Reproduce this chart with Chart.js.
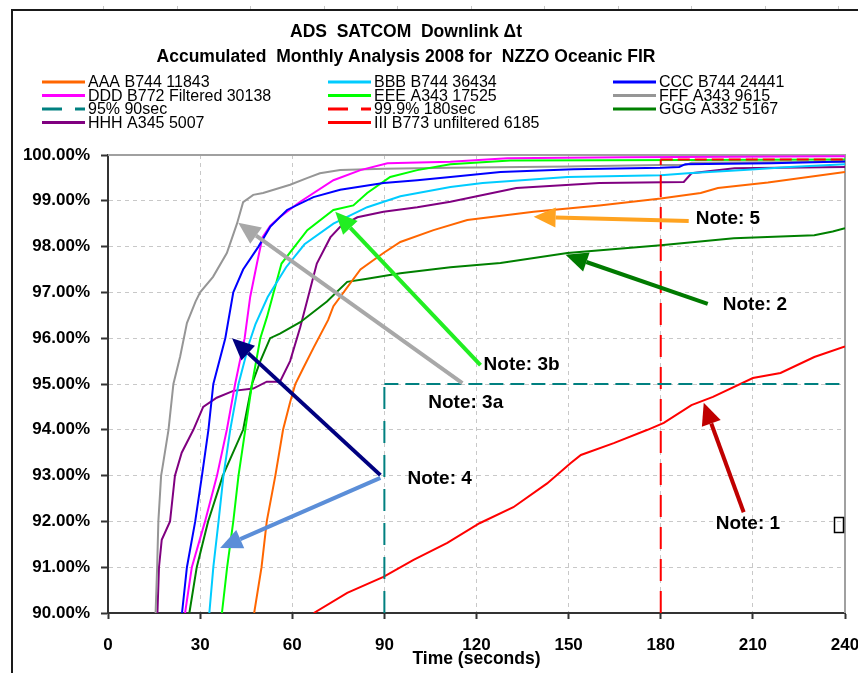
<!DOCTYPE html>
<html>
<head>
<meta charset="utf-8">
<script src="https://cdn.jsdelivr.net/npm/chart.js@4.4.1/dist/chart.umd.min.js"></script>
<style>
  html, body { margin: 0; padding: 0; background: #fff; }
  canvas { display: block; }
</style>
</head>
<body>
<canvas id="chart" width="858" height="673"></canvas>
<script>
// accumulated % of downlink messages delivered within x seconds
var aaa_x = [47.6, 50, 51.7, 54.5, 57, 59.3, 61, 63.6, 67, 71.7, 73.4, 82.2, 89.7, 95.2, 106, 117, 138.6, 160, 180, 193, 198.6, 214.9, 240];
var aaa_y = [90, 91, 92, 93, 94, 94.6, 95, 95.35, 95.8, 96.4, 96.7, 97.5, 97.86, 98.1, 98.36, 98.58, 98.76, 98.9, 99.05, 99.17, 99.28, 99.4, 99.63];

var bbb_x = [33, 34.3, 36, 37.6, 39.8, 42.5, 46, 48, 52, 58, 64, 73.4, 84.4, 95.2, 111.5, 122, 149.6, 180, 188.8, 207, 222, 240];
var bbb_y = [90, 91, 92, 93, 94, 95, 95.9, 96.3, 96.9, 97.55, 98.05, 98.5, 98.86, 99.1, 99.3, 99.39, 99.52, 99.56, 99.6, 99.67, 99.74, 99.8];

var ccc_x = [24.1, 25.7, 28.4, 30.6, 32.7, 34.3, 38.2, 40.8, 44, 49, 52.8, 58.3, 66.9, 75.6, 89.7, 100.7, 111.5, 127.8, 151.6, 180, 186, 188, 216, 240];
var ccc_y = [90, 91, 92, 93, 94, 95, 96, 97, 97.5, 98, 98.43, 98.8, 99.08, 99.24, 99.39, 99.45, 99.52, 99.63, 99.69, 99.72, 99.74, 99.8, 99.82, 99.86];

var ddd_x = [25.1, 27.3, 31.6, 35.5, 38.7, 41.4, 44.5, 46.3, 48.5, 50.3, 52.8, 56, 62.6, 73.4, 82.2, 91, 111.5, 130, 168, 240];
var ddd_y = [90, 91, 92, 93, 94, 95, 96, 96.9, 97.63, 98.2, 98.45, 98.65, 98.98, 99.45, 99.67, 99.82, 99.85, 99.93, 99.95, 99.97];

var eee_x = [37.1, 38.8, 40.8, 42.5, 44.7, 46.9, 49.6, 51.8, 56.5, 64.9, 73.4, 79.9, 84.4, 91.9, 100.7, 111.5, 131, 189, 240];
var eee_y = [90, 91, 92, 93, 94, 95, 96, 96.47, 97.63, 98.36, 98.8, 98.9, 99.17, 99.52, 99.67, 99.8, 99.88, 99.89, 99.9];

var fff_x = [15.5, 16, 16.4, 17.3, 17.8, 19.7, 21.3, 23.5, 25.7, 28.5, 30, 34.2, 38.7, 42, 44, 47.3, 50.5, 59.3, 65, 69, 75.6, 90, 111.5, 150, 180, 188, 190, 240];
var fff_y = [90, 91, 92, 93, 93.2, 94, 95, 95.6, 96.33, 96.8, 97, 97.34, 97.86, 98.5, 98.97, 99.13, 99.17, 99.35, 99.5, 99.6, 99.67, 99.7, 99.72, 99.75, 99.78, 99.78, 99.83, 99.85];

var ggg_x = [26.5, 28.9, 32.6, 37.4, 44, 46.9, 49.6, 52.8, 56, 62.6, 71.3, 77.9, 84.4, 95.2, 111.5, 127.8, 149.6, 180, 203.8, 230, 236, 240];
var ggg_y = [90, 91, 92, 93, 94, 95, 95.5, 96, 96.1, 96.35, 96.8, 97.23, 97.3, 97.42, 97.55, 97.64, 97.86, 98.03, 98.18, 98.25, 98.33, 98.4];

var hhh_x = [16.1, 16.6, 17.5, 20.2, 21.8, 24, 27.8, 31, 35.4, 40.8, 47.3, 51.7, 56, 59.3, 62.6, 68, 72.4, 75.6, 81.2, 89.7, 100.7, 111.5, 133, 160, 187.5, 190, 204, 240];
var hhh_y = [90, 91, 91.6, 92, 93, 93.5, 94, 94.5, 94.7, 94.85, 94.9, 95.05, 95.05, 95.5, 96.24, 97.63, 98.2, 98.43, 98.64, 98.76, 98.86, 98.98, 99.28, 99.39, 99.41, 99.6, 99.71, 99.74];

var iii_x = [67, 77.9, 89.7, 99.5, 110.5, 121, 132, 143, 150.6, 154, 164.7, 175.7, 181, 190, 197, 210, 219, 230, 240];
var iii_y = [90, 90.44, 90.79, 91.16, 91.53, 91.96, 92.31, 92.83, 93.27, 93.45, 93.71, 94.0, 94.15, 94.54, 94.72, 95.13, 95.24, 95.59, 95.82];

// target lines
var p95_x = [90, 90, 240];
var p95_y = [90, 95, 95];
var p999_x = [180, 180, 240];
var p999_y = [90, 99.9, 99.9];

var seriesNames = ['AAA B744 11843', 'BBB B744 36434', 'CCC B744 24441',
  'DDD B772 Filtered 30138', 'EEE A343 17525', 'FFF A343 9615',
  '95% 90sec', '99.9% 180sec', 'GGG A332 5167',
  'HHH A345 5007', 'III B773 unfiltered 6185'];
var xTicks = [0, 30, 60, 90, 120, 150, 180, 210, 240];
var yTicks = [90, 91, 92, 93, 94, 95, 96, 97, 98, 99, 100];
var titleLines = ['ADS  SATCOM  Downlink \u0394t', 'Accumulated  Monthly Analysis 2008 for  NZZO Oceanic FIR'];
var xTitle = 'Time (seconds)';

// arrows and notes, in data units
var arrows = [
  { from: [189.1, 98.56], to: [138.6, 98.65], color: '#FFA320' },
  { from: [195.3, 96.75], to: [149, 97.82], color: '#007A00' },
  { from: [121.3, 95.41], to: [74, 98.76], color: '#22EE22' },
  { from: [115.4, 95.02], to: [42.4, 98.52], color: '#A8A8A8' },
  { from: [88.7, 93.01], to: [40.4, 96.0], color: '#000080' },
  { from: [88.7, 92.95], to: [36.5, 91.42], color: '#5B8ED8' },
  { from: [207, 92.2], to: [194, 94.59], color: '#C00000' }
];
var notes = [
  { text: 'Note: 5', x: 191.4, y: 98.6 },
  { text: 'Note: 2', x: 200.2, y: 96.72 },
  { text: 'Note: 3b', x: 122.3, y: 95.41 },
  { text: 'Note: 3a', x: 104.3, y: 94.59 },
  { text: 'Note: 4', x: 97.5, y: 92.93 },
  { text: 'Note: 1', x: 197.9, y: 91.94 }
];

function pts(xs, ys) {
  return xs.map(function(x, i) { return { x: x, y: ys[i] }; });
}

function line(label, xs, ys, color) {
  return { label: label, data: pts(xs, ys), borderColor: color, backgroundColor: color,
    borderWidth: 2, pointRadius: 0, tension: 0, fill: false };
}

function refLine(label, xs, ys, color, vDash, hDash) {
  var d = line(label, xs, ys, color);
  d.borderDash = vDash;
  d.legendDash = [20, 13];
  d.order = -1;
  d.segment = { borderDash: function(c) { return c.p0.parsed.y === c.p1.parsed.y ? hDash : vDash; } };
  return d;
}

var datasets = [
  line(seriesNames[0], aaa_x, aaa_y, '#FF6600'),
  line(seriesNames[1], bbb_x, bbb_y, '#00CCFF'),
  line(seriesNames[2], ccc_x, ccc_y, '#0000FF'),
  line(seriesNames[3], ddd_x, ddd_y, '#FF00FF'),
  line(seriesNames[4], eee_x, eee_y, '#00FF00'),
  line(seriesNames[5], fff_x, fff_y, '#969696'),
  refLine(seriesNames[6], p95_x, p95_y, '#008080', [22, 12], [14, 7]),
  refLine(seriesNames[7], p999_x, p999_y, '#FF0000', [22, 10], [12, 5]),
  line(seriesNames[8], ggg_x, ggg_y, '#008000'),
  line(seriesNames[9], hhh_x, hhh_y, '#800080'),
  line(seriesNames[10], iii_x, iii_y, '#FF0000')
];

function arrow(ctx, x1, y1, x2, y2, color) {
  var ang = Math.atan2(y2 - y1, x2 - x1), len = 22, hw = 10;
  var bx = x2 - len * Math.cos(ang), by = y2 - len * Math.sin(ang);
  ctx.strokeStyle = color;
  ctx.fillStyle = color;
  ctx.lineWidth = 4;
  ctx.beginPath(); ctx.moveTo(x1, y1); ctx.lineTo(bx, by); ctx.stroke();
  ctx.beginPath();
  ctx.moveTo(x2, y2);
  ctx.lineTo(bx + hw * Math.sin(ang), by - hw * Math.cos(ang));
  ctx.lineTo(bx - hw * Math.sin(ang), by + hw * Math.cos(ang));
  ctx.closePath();
  ctx.fill();
}

var decor = {
  id: 'decor',
  beforeDatasetsDraw: function(chart) {
    var ctx = chart.ctx, a = chart.chartArea;
    ctx.save();
    ctx.strokeStyle = '#a0a0a0';
    ctx.lineWidth = 2;
    ctx.beginPath();
    ctx.moveTo(a.left, a.top); ctx.lineTo(a.right, a.top); ctx.lineTo(a.right, a.bottom);
    ctx.stroke();
    ctx.restore();
  },
  afterDraw: function(chart) {
    var ctx = chart.ctx, xs = chart.scales.x, ys = chart.scales.y;
    ctx.save();
    // screenshot ruler marks and frame
    ctx.strokeStyle = '#c8c8c8';
    ctx.lineWidth = 1;
    for (var rx = 103; rx < 858; rx += 73.5) {
      ctx.beginPath(); ctx.moveTo(Math.round(rx) + 0.5, 6); ctx.lineTo(Math.round(rx) + 0.5, 10); ctx.stroke();
    }
    ctx.strokeStyle = '#1a1a1a';
    ctx.lineWidth = 2;
    ctx.beginPath(); ctx.moveTo(12, 673); ctx.lineTo(12, 10); ctx.lineTo(858, 10); ctx.stroke();

    // title
    ctx.fillStyle = '#000';
    ctx.textAlign = 'center';
    ctx.textBaseline = 'middle';
    ctx.font = 'bold 17.5px "Liberation Sans", Arial, sans-serif';
    ctx.fillText(titleLines[0], 406, 32);
    ctx.fillText(titleLines[1], 406, 57);

    // legend, 3 columns
    var colX = [42, 328, 613], rowY = [82, 95.5, 109, 122.5];
    ctx.textAlign = 'left';
    ctx.font = '16px "Liberation Sans", Arial, sans-serif';
    chart.data.datasets.forEach(function(d, i) {
      var cx = colX[i % 3], cy = rowY[Math.floor(i / 3)];
      ctx.strokeStyle = d.borderColor;
      ctx.lineWidth = 3;
      ctx.setLineDash(d.legendDash || []);
      ctx.beginPath(); ctx.moveTo(cx, cy); ctx.lineTo(cx + 43, cy); ctx.stroke();
      ctx.setLineDash([]);
      ctx.fillStyle = '#000';
      ctx.fillText(d.label, cx + 46, cy + 1);
    });

    // arrows and notes
    arrows.forEach(function(r) {
      arrow(ctx, xs.getPixelForValue(r.from[0]), ys.getPixelForValue(r.from[1]),
        xs.getPixelForValue(r.to[0]), ys.getPixelForValue(r.to[1]), r.color);
    });
    ctx.fillStyle = '#000';
    ctx.font = 'bold 19px "Liberation Sans", Arial, sans-serif';
    notes.forEach(function(n) {
      ctx.fillText(n.text, xs.getPixelForValue(n.x), ys.getPixelForValue(n.y));
    });
    // stray glyph box
    ctx.strokeStyle = '#000';
    ctx.lineWidth = 1.5;
    ctx.strokeRect(Math.round(xs.getPixelForValue(236.4)) + 0.5, Math.round(ys.getPixelForValue(92.1)) + 0.5, 9, 15);
    ctx.restore();
  }
};

var tickFont = { family: '"Liberation Sans", Arial, sans-serif', size: 17, weight: 'bold' };

new Chart(document.getElementById('chart').getContext('2d'), {
  type: 'line',
  data: { datasets: datasets },
  plugins: [decor],
  options: {
    responsive: false,
    animation: false,
    layout: { padding: { top: 155, right: 13, left: 0, bottom: 0 } },
    plugins: { legend: { display: false }, title: { display: false }, tooltip: { enabled: false } },
    scales: {
      x: {
        type: 'linear', min: 0, max: 240,
        afterBuildTicks: function(s) { s.ticks = xTicks.map(function(v) { return { value: v }; }); },
        afterFit: function(s) { s.height = 60; s.paddingLeft = 0; s.paddingRight = 0; },
        ticks: { color: '#000', font: tickFont, padding: 16, maxRotation: 0 },
        grid: { color: '#c8c8c8', lineWidth: 1, tickLength: 6, tickColor: '#333', tickWidth: 2, tickBorderDash: [] },
        border: { color: '#333', width: 2, dash: [4, 4] },
        title: { display: true, text: xTitle, color: '#000',
          font: { family: '"Liberation Sans", Arial, sans-serif', size: 17.5, weight: 'bold' },
          padding: { top: 0, bottom: 3 } }
      },
      y: {
        type: 'linear', min: 90, max: 100,
        afterBuildTicks: function(s) { s.ticks = yTicks.map(function(v) { return { value: v }; }); },
        afterFit: function(s) { s.width = 108; },
        ticks: { color: '#000', font: tickFont, padding: 11,
          callback: function(v) { return v.toFixed(2) + '%'; } },
        grid: { color: '#c8c8c8', lineWidth: 1, tickLength: 7, tickColor: '#333', tickWidth: 2, tickBorderDash: [] },
        border: { color: '#333', width: 2, dash: [4, 4] }
      }
    }
  }
});
</script>
</body>
</html>
